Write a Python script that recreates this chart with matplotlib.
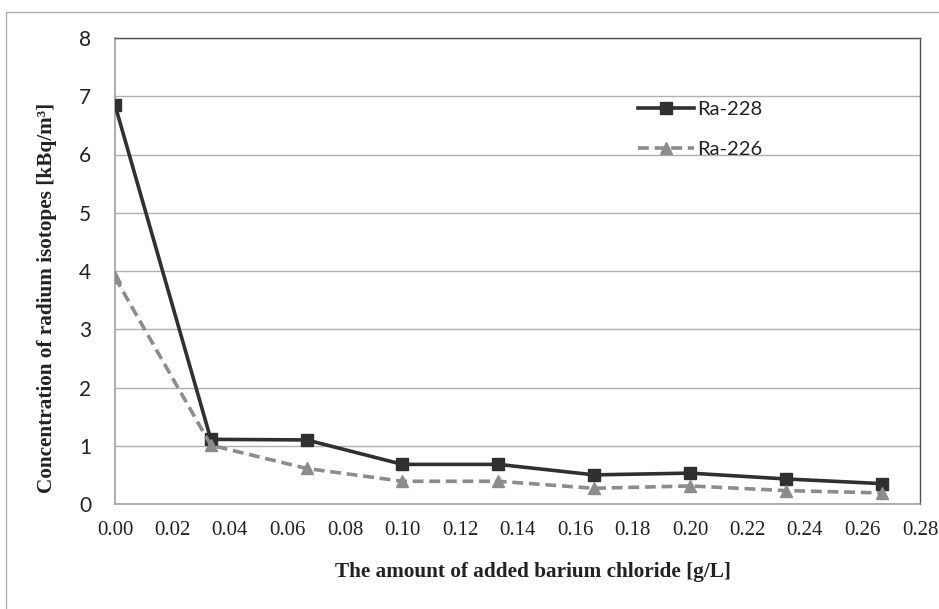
import matplotlib.pyplot as plt
from matplotlib.patches import Rectangle

x_vals = [0.0, 1/30, 2/30, 3/30, 4/30, 5/30, 6/30, 7/30, 8/30]
ra228 = [6.85, 1.11, 1.10, 0.68, 0.68, 0.50, 0.53, 0.43, 0.35]
ra226 = [3.89, 1.01, 0.61, 0.39, 0.39, 0.27, 0.31, 0.23, 0.19]
x_ticks = [i * 0.02 for i in range(15)]
x_ticklabels = ['%.2f' % t for t in x_ticks]
y_ticks = list(range(9))

W, H = 939, 609
fig = plt.figure(figsize=(W / 100, H / 100), dpi=100)
ax = fig.add_axes([115/W, 1 - 504/H, 805/W, 466/H])

# outer frame (only top/left visible in the reference)
fig.add_artist(Rectangle((6/W, -0.1), 2, 1.1 - 12/H, transform=fig.transFigure,
                         fill=False, edgecolor='#b0b0b0', linewidth=1.0))

ax.plot(x_vals, ra228, color='#303030', linewidth=2.6, marker='s', markersize=9, label='Ra-228', zorder=3)
ax.plot(x_vals, ra226, color='#8c8c8c', linewidth=2.6, linestyle=(0, (3, 1.6)), marker='^',
        markersize=9, label='Ra-226', zorder=3)

ax.set_xlim(0, 0.28)
ax.set_ylim(0, 8)
ax.set_xticks(x_ticks)
ax.set_xticklabels(x_ticklabels, family='Liberation Serif', fontsize=15, color='#222222')
ax.set_yticks(y_ticks)
ax.set_yticklabels([str(v) for v in y_ticks], family='Lato', fontsize=15, color='#222222')
ax.tick_params(axis='y', length=0, pad=17)
ax.tick_params(axis='x', length=0, pad=12.5)
ax.yaxis.grid(True, color='#b0b0b0', linewidth=1.0)
ax.set_axisbelow(True)
for side in ['left', 'bottom']:
    ax.spines[side].set_color('#a0a0a0')
    ax.spines[side].set_linewidth(1.2)
for side in ['top', 'right']:
    ax.spines[side].set_color('#505050')
    ax.spines[side].set_linewidth(1.0)

# axis titles placed by pixel position
fig.text(533 / W, 1 - 572 / H, 'The amount of added barium chloride [g/L]', family='Liberation Serif',
         fontweight='bold', fontsize=15.3, ha='center', va='center', color='#222222')
fig.text(47 / W, 1 - 298 / H, 'Concentration of radium isotopes [kBq/m³]', family='Liberation Serif',
         fontweight='bold', fontsize=15.3, ha='center', va='center', rotation=90, color='#222222')

leg = ax.legend(loc='upper left', bbox_to_anchor=(0.627, 0.903), frameon=False,
                prop={'family': 'Lato', 'size': 14.5}, handlelength=2.8, labelspacing=1.1,
                handletextpad=0.15)
for t in leg.get_texts():
    t.set_color('#222222')

fig.savefig('out.png', dpi=100)
